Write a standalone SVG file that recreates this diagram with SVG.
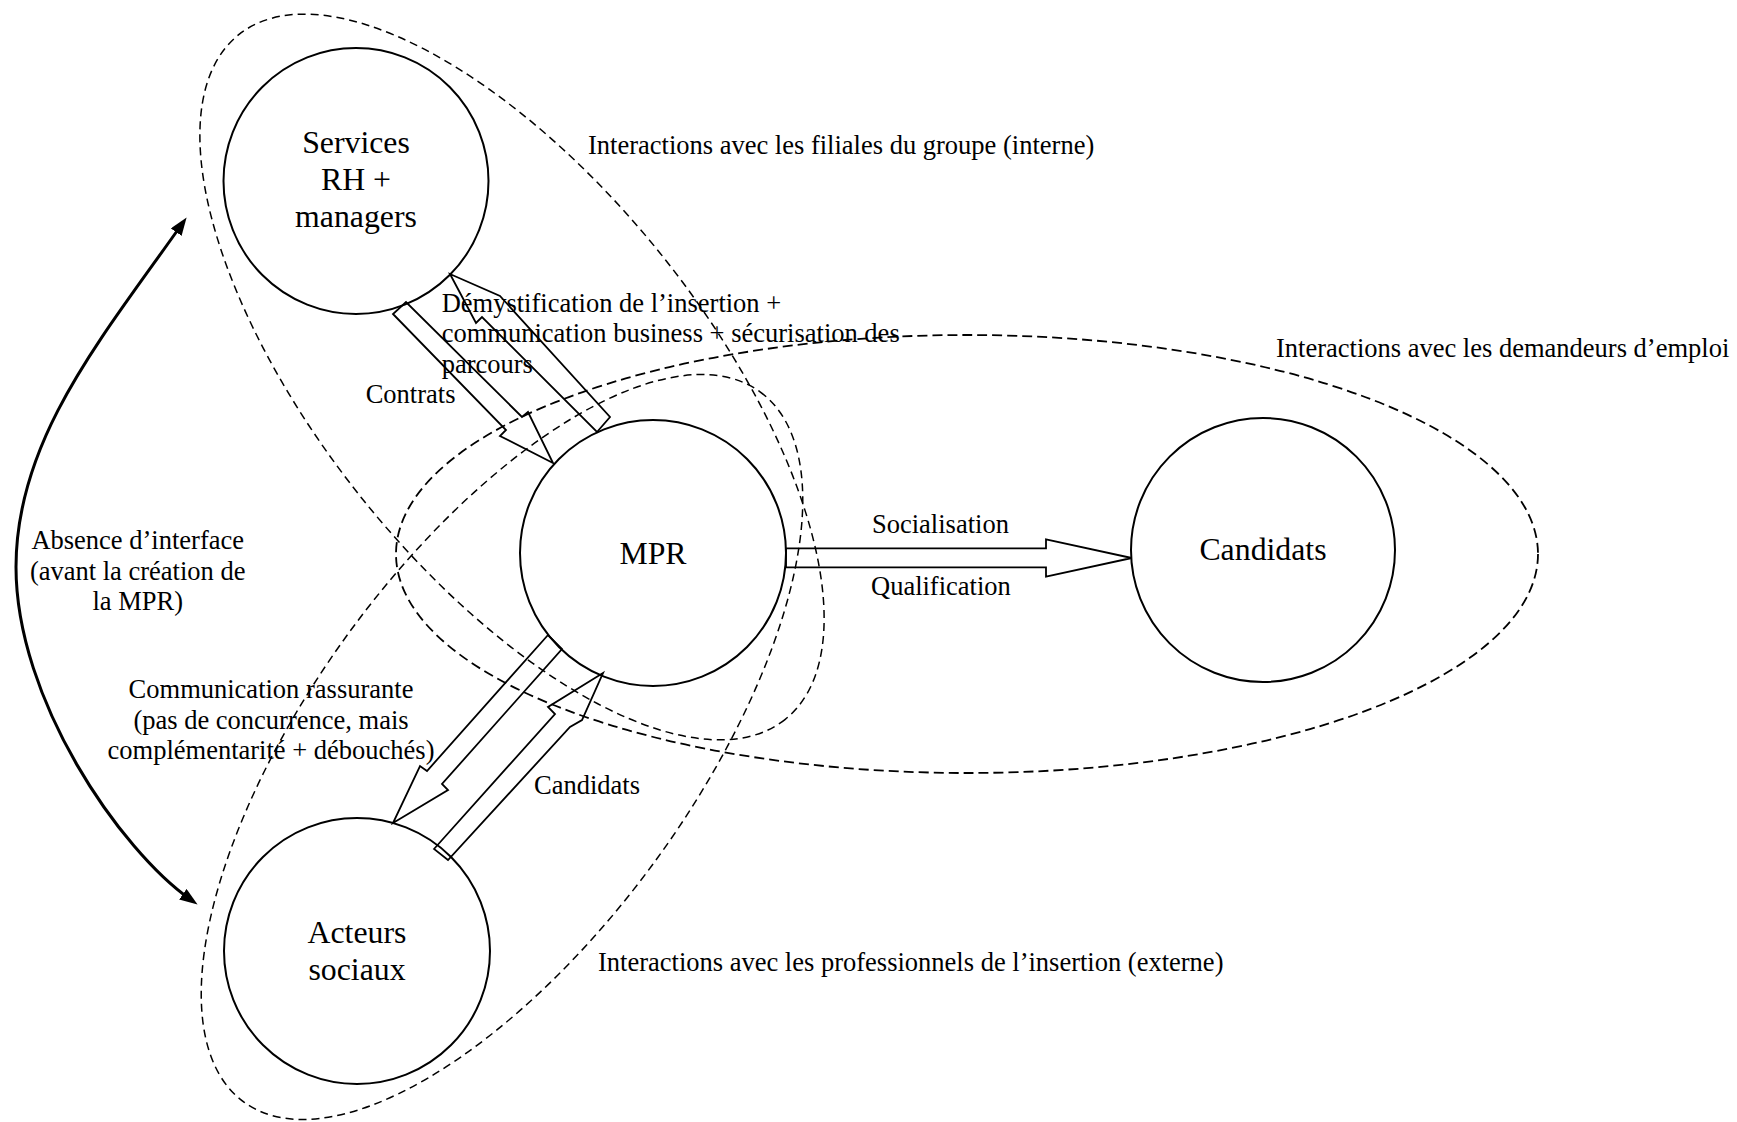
<svg xmlns="http://www.w3.org/2000/svg" width="1737" height="1122" viewBox="0 0 1737 1122">
<style>
.zone{fill:none;stroke:#000;stroke-width:1.5;stroke-dasharray:8 5}
.zone2{fill:none;stroke:#000;stroke-width:1.8;stroke-dasharray:10 5}
.node{fill:#fff;stroke:#000;stroke-width:2}
.blk{fill:none;stroke:#000;stroke-width:1.8;stroke-linejoin:miter}
.ntxt{font-family:"Liberation Serif","Times New Roman",serif;font-size:31.8px;text-anchor:middle;fill:#000}
.lbl{font-family:"Liberation Serif","Times New Roman",serif;font-size:26.5px;fill:#000}
.mid{text-anchor:middle}
.curve{fill:none;stroke:#000;stroke-width:3}
</style>
<defs>
<marker id="ah" viewBox="0 0 18 13" refX="10" refY="6.5" markerWidth="18" markerHeight="13" markerUnits="userSpaceOnUse" orient="auto-start-reverse">
<path d="M0,0 L18,6.5 L0,13 z" fill="#000"/>
</marker>
</defs>
<rect width="1737" height="1122" fill="#fff"/>

<g id="zones">
<ellipse class="zone" cx="512" cy="377" rx="438" ry="193" transform="rotate(51.4 512 377)"/>
<ellipse class="zone" cx="502" cy="747" rx="439" ry="191" transform="rotate(-54 502 747)"/>
<ellipse class="zone2" cx="967" cy="554" rx="571" ry="219"/>
</g>

<g id="node-services">
<ellipse class="node" cx="356" cy="181" rx="132.5" ry="133"/>
<text class="ntxt" x="356" y="153">Services</text>
<text class="ntxt" x="356" y="190">RH +</text>
<text class="ntxt" x="356" y="227">managers</text>
</g>
<g id="node-mpr">
<circle class="node" cx="653" cy="553" r="133"/>
<text class="ntxt" x="653" y="564">MPR</text>
</g>
<g id="node-candidats">
<circle class="node" cx="1263" cy="550" r="132"/>
<text class="ntxt" x="1263" y="560">Candidats</text>
</g>
<g id="node-acteurs">
<circle class="node" cx="357" cy="951" r="133"/>
<text class="ntxt" x="357" y="943">Acteurs</text>
<text class="ntxt" x="357" y="980">sociaux</text>
</g>

<g id="connectors">
<polygon class="blk" points="393,314 506,430 500,436 553,463 528,412 522,417 406,302"/>
<polygon class="blk" points="450,274 476,323 482,317 597,432 610,417 500,296"/>
<polygon class="blk" points="548,635 427,771 420,766 393,823 448,790 442,784 562,649"/>
<polygon class="blk" points="434,849 555,714 548,707 603,673 582,720 570,727 448,860"/>
<polygon class="blk" points="786,548.3 1046,548.3 1046,539.3 1131.7,558 1046,576.7 1046,567.3 786,567.3"/>
<path class="curve" d="M182,224 C100,340 16,440 16,567 C16,700 120,850 191,900" marker-start="url(#ah)" marker-end="url(#ah)"/>
</g>

<g id="labels">
<text class="lbl" x="588" y="154">Interactions avec les filiales du groupe (interne)</text>
<text class="lbl" x="1276" y="357">Interactions avec les demandeurs d’emploi</text>
<text class="lbl" x="598" y="971">Interactions avec les professionnels de l’insertion (externe)</text>
<text class="lbl" x="441.7" y="311.7">Démystification de l’insertion +</text>
<text class="lbl" x="441.7" y="342.3">communication business + sécurisation des</text>
<text class="lbl" x="441.7" y="372.7">parcours</text>
<text class="lbl" x="365.7" y="403">Contrats</text>
<text class="lbl mid" x="137.7" y="549">Absence d’interface</text>
<text class="lbl mid" x="137.7" y="579.5">(avant la création de</text>
<text class="lbl mid" x="137.7" y="610">la MPR)</text>
<text class="lbl mid" x="271" y="698">Communication rassurante</text>
<text class="lbl mid" x="271" y="729">(pas de concurrence, mais</text>
<text class="lbl mid" x="271" y="759">complémentarité + débouchés)</text>
<text class="lbl" x="534" y="794">Candidats</text>
<text class="lbl" x="872" y="533">Socialisation</text>
<text class="lbl" x="871" y="595">Qualification</text>
</g>
</svg>
